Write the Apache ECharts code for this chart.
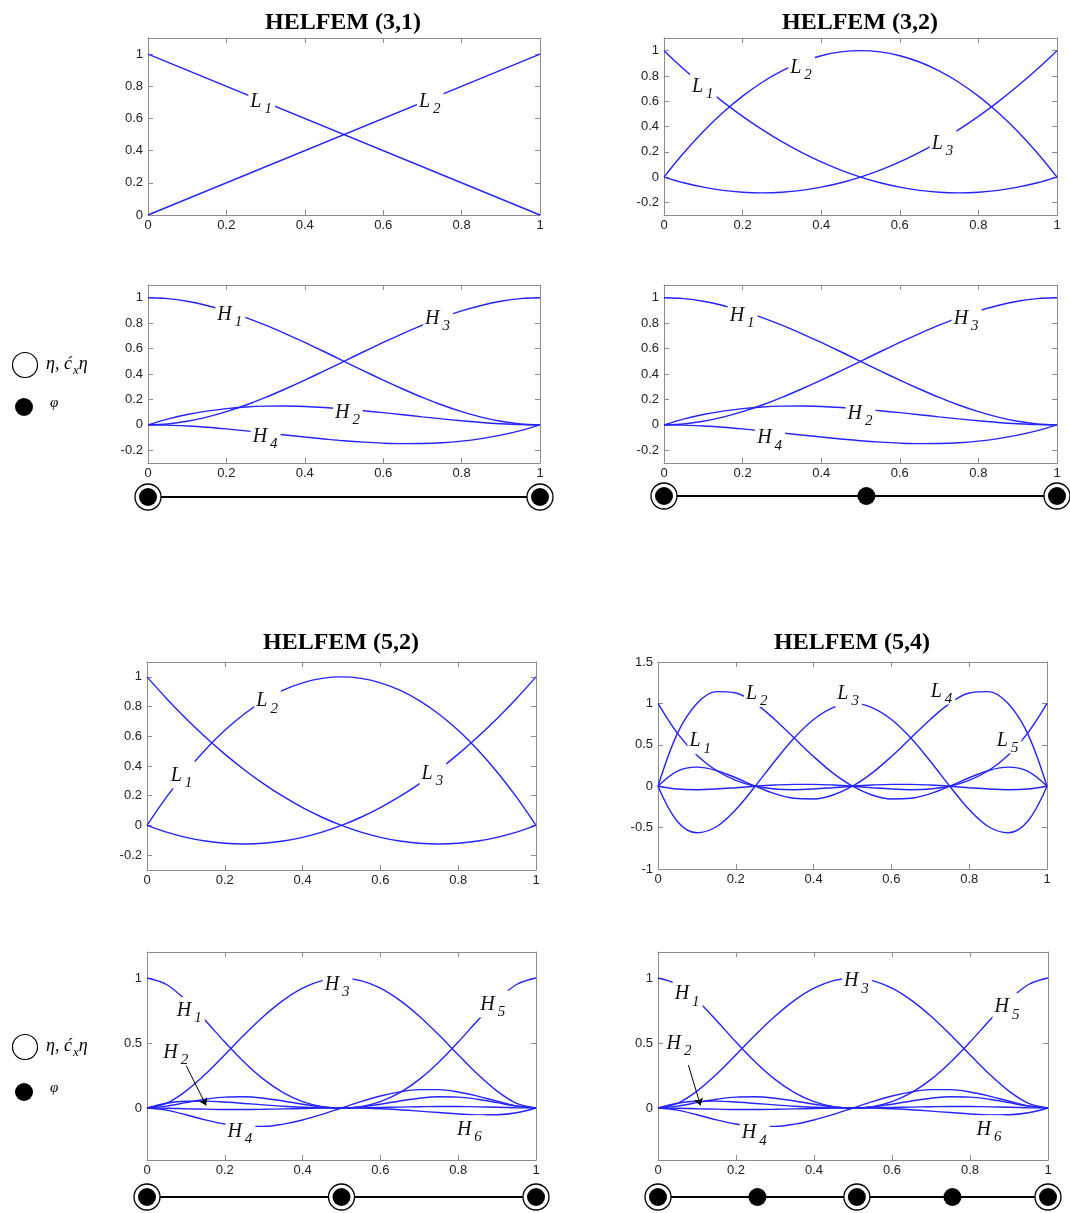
<!DOCTYPE html>
<html>
<head>
<meta charset="utf-8">
<title>HELFEM basis functions</title>
<script src="https://cdn.jsdelivr.net/npm/echarts@6/dist/echarts.min.js"></script>
<style>
  html, body { margin: 0; padding: 0; background: #fff; }
  #chart { width: 1070px; height: 1213px; }
</style>
</head>
<body>
<div id="chart"></div>
<script>
// ---- sample abscissae ----
const xs = [0, 0.05, 0.1, 0.15, 0.2, 0.25, 0.3, 0.35, 0.4, 0.45, 0.5, 0.55, 0.6, 0.65, 0.7, 0.75, 0.8, 0.85, 0.9, 0.95, 1];
const xsLin = [0, 1];

// ---- HELFEM (3,1): linear Lagrange ----
const linL1 = [1, 0];
const linL2 = [0, 1];

// ---- quadratic Lagrange (3,2) and (5,2) ----
const quadL1 = [1, 0.855, 0.72, 0.595, 0.48, 0.375, 0.28, 0.195, 0.12, 0.055, 0, -0.045, -0.08, -0.105, -0.12, -0.125, -0.12, -0.105, -0.08, -0.045, 0];
const quadL2 = [0, 0.19, 0.36, 0.51, 0.64, 0.75, 0.84, 0.91, 0.96, 0.99, 1, 0.99, 0.96, 0.91, 0.84, 0.75, 0.64, 0.51, 0.36, 0.19, 0];
const quadL3 = [0, -0.045, -0.08, -0.105, -0.12, -0.125, -0.12, -0.105, -0.08, -0.045, 0, 0.055, 0.12, 0.195, 0.28, 0.375, 0.48, 0.595, 0.72, 0.855, 1];

// ---- cubic Hermite (3,1) and (3,2) ----
const cubH1 = [1, 0.993, 0.972, 0.939, 0.896, 0.844, 0.784, 0.718, 0.648, 0.575, 0.5, 0.425, 0.352, 0.282, 0.216, 0.156, 0.104, 0.061, 0.028, 0.007, 0];
const cubH2 = [0, 0.045, 0.081, 0.108, 0.128, 0.141, 0.147, 0.148, 0.144, 0.136, 0.125, 0.111, 0.096, 0.08, 0.063, 0.047, 0.032, 0.019, 0.009, 0.002, 0];
const cubH3 = [0, 0.007, 0.028, 0.061, 0.104, 0.156, 0.216, 0.282, 0.352, 0.425, 0.5, 0.575, 0.648, 0.718, 0.784, 0.844, 0.896, 0.939, 0.972, 0.993, 1];
const cubH4 = [0, -0.002, -0.009, -0.019, -0.032, -0.047, -0.063, -0.08, -0.096, -0.111, -0.125, -0.136, -0.144, -0.148, -0.147, -0.141, -0.128, -0.108, -0.081, -0.045, 0];

// ---- quartic Lagrange (5,4) ----
const quartL1 = [1, 0.638, 0.374, 0.19, 0.07, 0, -0.034, -0.042, -0.034, -0.018, 0, 0.014, 0.022, 0.022, 0.014, 0, -0.018, -0.034, -0.042, -0.034, 0];
const quartL2 = [0, 0.638, 0.998, 1.142, 1.126, 1, 0.806, 0.582, 0.358, 0.158, 0, -0.106, -0.154, -0.146, -0.09, 0, 0.102, 0.19, 0.23, 0.182, 0];
const quartL3 = [0, -0.426, -0.562, -0.49, -0.282, 0, 0.302, 0.582, 0.806, 0.95, 1, 0.95, 0.806, 0.582, 0.302, 0, -0.282, -0.49, -0.562, -0.426, 0];
const quartL4 = [0, 0.182, 0.23, 0.19, 0.102, 0, -0.09, -0.146, -0.154, -0.106, 0, 0.158, 0.358, 0.582, 0.806, 1, 1.126, 1.142, 0.998, 0.638, 0];
const quartL5 = [0, -0.034, -0.042, -0.034, -0.018, 0, 0.014, 0.022, 0.022, 0.014, 0, -0.018, -0.034, -0.042, -0.034, 0, 0.07, 0.19, 0.374, 0.638, 1];

// ---- quintic Hermite (5,2) and (5,4) ----
const quinH1 = [1, 0.95, 0.829, 0.673, 0.507, 0.352, 0.22, 0.118, 0.049, 0.011, 0, 0.009, 0.029, 0.054, 0.075, 0.086, 0.084, 0.067, 0.041, 0.014, 0];
const quinH2 = [0, 0.037, 0.052, 0.053, 0.046, 0.035, 0.024, 0.013, 0.006, 0.001, 0, 0.001, 0.004, 0.007, 0.01, 0.012, 0.012, 0.009, 0.006, 0.002, 0];
const quinH3 = [0, 0.036, 0.13, 0.26, 0.41, 0.563, 0.706, 0.828, 0.922, 0.98, 1, 0.98, 0.922, 0.828, 0.706, 0.563, 0.41, 0.26, 0.13, 0.036, 0];
const quinH4 = [0, -0.016, -0.052, -0.091, -0.123, -0.141, -0.141, -0.124, -0.092, -0.049, 0, 0.049, 0.092, 0.124, 0.141, 0.141, 0.123, 0.091, 0.052, 0.016, 0];
const quinH5 = [0, 0.014, 0.041, 0.067, 0.084, 0.086, 0.075, 0.054, 0.029, 0.009, 0, 0.011, 0.049, 0.118, 0.22, 0.352, 0.507, 0.673, 0.829, 0.95, 1];
const quinH6 = [0, -0.002, -0.006, -0.009, -0.012, -0.012, -0.01, -0.007, -0.004, -0.001, 0, -0.001, -0.006, -0.013, -0.024, -0.035, -0.046, -0.053, -0.052, -0.037, 0];

// ---- tick values ----
const xTicks = [0, 0.2, 0.4, 0.6, 0.8, 1];
const yTicksA = [0, 0.2, 0.4, 0.6, 0.8, 1];
const yTicksB = [-0.2, 0, 0.2, 0.4, 0.6, 0.8, 1];
const yTicksC = [-1, -0.5, 0, 0.5, 1, 1.5];
const yTicksD = [0, 0.5, 1];

// ---- curve labels: [letter, index, x, y] ----
const labels31L = [['L', '1', 0.29, 0.71], ['L', '2', 0.72, 0.71]];
const labels32L = [['L', '1', 0.1, 0.72], ['L', '2', 0.35, 0.87], ['L', '3', 0.71, 0.27]];
const labels31H = [['H', '1', 0.21, 0.87], ['H', '3', 0.74, 0.84], ['H', '2', 0.51, 0.1], ['H', '4', 0.3, -0.09]];
const labels32H = [['H', '1', 0.2, 0.86], ['H', '3', 0.77, 0.84], ['H', '2', 0.5, 0.09], ['H', '4', 0.27, -0.1]];
const labels52L = [['L', '1', 0.09, 0.34], ['L', '2', 0.31, 0.84], ['L', '3', 0.735, 0.35]];
const labels54L = [['L', '1', 0.11, 0.55], ['L', '2', 0.255, 1.12], ['L', '3', 0.49, 1.12], ['L', '4', 0.73, 1.15], ['L', '5', 0.9, 0.56]];
const labels52H = [['H', '1', 0.11, 0.75], ['H', '3', 0.49, 0.95], ['H', '5', 0.89, 0.8], ['H', '2', 0.075, 0.43], ['H', '4', 0.24, -0.18], ['H', '6', 0.83, -0.16]];
const labels54H = [['H', '1', 0.076, 0.88], ['H', '3', 0.51, 0.98], ['H', '5', 0.896, 0.78], ['H', '2', 0.055, 0.5], ['H', '4', 0.248, -0.19], ['H', '6', 0.85, -0.16]];
const arrow52 = [[0.1, 0.33], [0.152, 0.02]];
const arrow54 = [[0.078, 0.33], [0.109, 0.02]];

// ---- element nodes (positions along the element) ----
const ringNodes31 = [0, 1];
const dotNodes31 = [];
const ringNodes32 = [0, 1];
const dotNodes32 = [0.515];
const ringNodes52 = [0, 0.5, 1];
const dotNodes52 = [];
const ringNodes54 = [0, 0.51, 1];
const dotNodes54 = [0.255, 0.755];

const titles = ['HELFEM (3,1)', 'HELFEM (3,2)', 'HELFEM (5,2)', 'HELFEM (5,4)'];

// ---------------- layout ----------------
const panels = [
  { left: 148, top: 38,  width: 392, height: 177, ymin: 0,    ymax: 1.1, yt: yTicksA, x: xsLin, curves: [linL1, linL2], labels: labels31L },
  { left: 664, top: 38,  width: 393, height: 177, ymin: -0.3, ymax: 1.1, yt: yTicksB, x: xs, curves: [quadL1, quadL2, quadL3], labels: labels32L },
  { left: 148, top: 285, width: 392, height: 178, ymin: -0.3, ymax: 1.1, yt: yTicksB, x: xs, curves: [cubH1, cubH2, cubH3, cubH4], labels: labels31H },
  { left: 664, top: 285, width: 393, height: 178, ymin: -0.3, ymax: 1.1, yt: yTicksB, x: xs, curves: [cubH1, cubH2, cubH3, cubH4], labels: labels32H },
  { left: 147, top: 662, width: 389, height: 208, ymin: -0.3, ymax: 1.1, yt: yTicksB, x: xs, curves: [quadL1, quadL2, quadL3], labels: labels52L },
  { left: 658, top: 662, width: 389, height: 207, ymin: -1,   ymax: 1.5, yt: yTicksC, x: xs, curves: [quartL1, quartL2, quartL3, quartL4, quartL5], labels: labels54L },
  { left: 147, top: 952, width: 389, height: 208, ymin: -0.4, ymax: 1.2, yt: yTicksD, x: xs, curves: [quinH1, quinH2, quinH3, quinH4, quinH5, quinH6], labels: labels52H, arrow: arrow52 },
  { left: 658, top: 952, width: 390, height: 208, ymin: -0.4, ymax: 1.2, yt: yTicksD, x: xs, curves: [quinH1, quinH2, quinH3, quinH4, quinH5, quinH6], labels: labels54H, arrow: arrow54 }
];

const bars = [
  { left: 148, width: 392, y: 497,  rings: ringNodes31, dots: dotNodes31 },
  { left: 664, width: 393, y: 496,  rings: ringNodes32, dots: dotNodes32 },
  { left: 147, width: 389, y: 1197, rings: ringNodes52, dots: dotNodes52 },
  { left: 658, width: 390, y: 1197, rings: ringNodes54, dots: dotNodes54 }
];

const frameColor = '#8c8c8c';
const blue = '#2424ff';
const serif = '"Liberation Serif", "Times New Roman", serif';
const sans = '"Liberation Sans", Arial, sans-serif';

const grid = [], xAxis = [], yAxis = [], series = [];

function frameAxis(extra) {
  return Object.assign({
    type: 'value',
    axisLine: { show: true, onZero: false, lineStyle: { color: frameColor, width: 1 } },
    splitLine: { show: false }
  }, extra);
}

const labelRich = {
  m: { fontFamily: serif, fontStyle: 'italic', fontSize: 20, color: '#111', lineHeight: 22, verticalAlign: 'top' },
  s: { fontFamily: serif, fontStyle: 'italic', fontSize: 15, color: '#111', lineHeight: 15, padding: [10, 0, 0, 3], verticalAlign: 'top' }
};

panels.forEach((p, i) => {
  grid.push({ left: p.left, top: p.top, width: p.width, height: p.height, containLabel: false });
  const xi = xAxis.length, yi = yAxis.length;
  xAxis.push(frameAxis({
    gridIndex: i, min: 0, max: 1, position: 'bottom',
    axisTick: { show: true, inside: true, length: 5, customValues: xTicks, lineStyle: { color: frameColor } },
    axisLabel: { show: true, customValues: xTicks, color: '#222', fontFamily: sans, fontSize: 13, margin: 4 }
  }));
  xAxis.push(frameAxis({
    gridIndex: i, min: 0, max: 1, position: 'top',
    axisTick: { show: true, inside: true, length: 5, customValues: xTicks, lineStyle: { color: frameColor } },
    axisLabel: { show: false }
  }));
  yAxis.push(frameAxis({
    gridIndex: i, min: p.ymin, max: p.ymax, position: 'left',
    axisTick: { show: true, inside: true, length: 5, customValues: p.yt, lineStyle: { color: frameColor } },
    axisLabel: { show: true, customValues: p.yt, color: '#222', fontFamily: sans, fontSize: 13, margin: 5 }
  }));
  yAxis.push(frameAxis({
    gridIndex: i, min: p.ymin, max: p.ymax, position: 'right',
    axisTick: { show: true, inside: true, length: 5, customValues: p.yt, lineStyle: { color: frameColor } },
    axisLabel: { show: false }
  }));

  p.curves.forEach((ys) => {
    series.push({
      type: 'line', xAxisIndex: xi, yAxisIndex: yi,
      data: p.x.map((x, k) => [x, ys[k]]),
      symbol: 'none', smooth: 0.35, silent: true, z: 2,
      lineStyle: { color: blue, width: 1.4 }
    });
  });

  // curve names drawn on an opaque white box that interrupts the curves beneath
  const lab = {
    type: 'scatter', xAxisIndex: xi, yAxisIndex: yi, z: 6, silent: true,
    symbol: 'rect', symbolSize: 1,
    itemStyle: { color: '#fff', opacity: 1 },
    data: p.labels.map(l => ({ value: [l[2], l[3]], main: l[0], sub: l[1] })),
    label: {
      show: true, position: 'inside', opacity: 1,
      backgroundColor: '#ffffff', padding: [4, 3, 1, 2],
      formatter: (q) => '{m|' + q.data.main + '}{s|' + q.data.sub + '}',
      rich: labelRich
    },
    labelLayout: { hideOverlap: false }
  };
  if (p.arrow) {
    lab.markLine = {
      silent: true, symbol: ['none', 'arrow'], symbolSize: 7,
      lineStyle: { color: '#000', width: 1, type: 'solid', opacity: 1 },
      label: { show: false },
      data: [[{ coord: p.arrow[0] }, { coord: p.arrow[1] }]]
    };
  }
  series.push(lab);
});

// element bars under the Hermite panels
bars.forEach((b) => {
  const gi = grid.length;
  grid.push({ left: b.left, width: b.width, top: b.y - 10, height: 20 });
  const xi = xAxis.length, yi = yAxis.length;
  xAxis.push({ gridIndex: gi, type: 'value', min: 0, max: 1, show: false });
  yAxis.push({ gridIndex: gi, type: 'value', min: -1, max: 1, show: false });
  const ends = [b.rings[0], b.rings[b.rings.length - 1]];
  series.push({
    type: 'line', xAxisIndex: xi, yAxisIndex: yi, silent: true, z: 2,
    data: ends.map(x => [x, 0]), symbol: 'none', clip: false,
    lineStyle: { color: '#000', width: 2 }
  });
  series.push({
    type: 'scatter', xAxisIndex: xi, yAxisIndex: yi, silent: true, z: 3, clip: false,
    data: b.rings.map(x => [x, 0]), symbol: 'circle', symbolSize: 26,
    itemStyle: { color: '#fff', borderColor: '#000', borderWidth: 1.3, opacity: 1 }
  });
  series.push({
    type: 'scatter', xAxisIndex: xi, yAxisIndex: yi, silent: true, z: 4, clip: false,
    data: b.rings.map(x => [x, 0]).concat(b.dots.map(x => [x, 0])), symbol: 'circle', symbolSize: 18,
    itemStyle: { color: '#000', opacity: 1 }
  });
});

// panel titles
const titleSpots = [[338, 6], [855, 6], [336, 626], [847, 626]];
const title = titles.map((t, i) => ({
  text: t, left: titleSpots[i][0], top: titleSpots[i][1], textAlign: 'center',
  textStyle: { fontFamily: serif, fontWeight: 'bold', fontSize: 24, color: '#000' }
}));

// node-type legend
function legendBlock(cy1, cy2) {
  return [
    { type: 'circle', shape: { cx: 25, cy: cy1, r: 12.5 }, style: { fill: '#fff', stroke: '#000', lineWidth: 1.2 } },
    { type: 'text', x: 46, y: cy1, style: {
        text: '{a|η, ć}{s|x}{a|η}', verticalAlign: 'middle',
        rich: {
          a: { fontFamily: serif, fontStyle: 'italic', fontSize: 18, fill: '#000', lineHeight: 20, verticalAlign: 'top' },
          s: { fontFamily: serif, fontStyle: 'italic', fontSize: 13, fill: '#000', lineHeight: 13, padding: [9, 0, 0, 1], verticalAlign: 'top' }
        } } },
    { type: 'circle', shape: { cx: 24, cy: cy2, r: 9 }, style: { fill: '#000' } },
    { type: 'text', x: 50, y: cy2 - 4, style: { text: 'φ', fontFamily: serif, fontStyle: 'italic', fontSize: 15, fill: '#000', verticalAlign: 'middle' } }
  ];
}

const chart = echarts.init(document.getElementById('chart'), null, { renderer: 'canvas' });
chart.setOption({
  animation: false,
  backgroundColor: '#fff',
  title: title,
  grid: grid,
  xAxis: xAxis,
  yAxis: yAxis,
  series: series,
  graphic: legendBlock(365, 407).concat(legendBlock(1047, 1092))
});
</script>
</body>
</html>
